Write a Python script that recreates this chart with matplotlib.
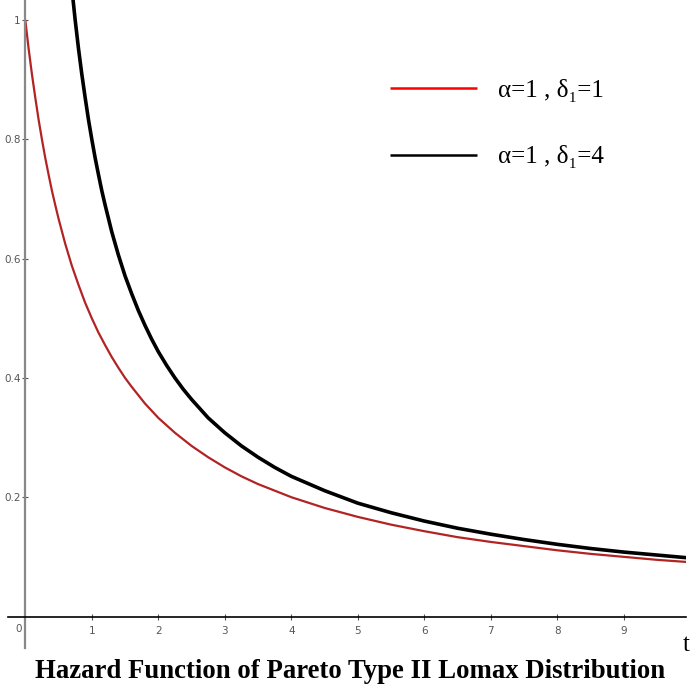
import matplotlib
matplotlib.use("Agg")
import matplotlib.pyplot as plt

# Data
t_red = [0, 0.05, 0.1, 0.15, 0.2, 0.25, 0.3, 0.35, 0.4, 0.45, 0.5, 0.6, 0.7, 0.8, 0.9, 1.0,
         1.1, 1.2, 1.3, 1.4, 1.5, 1.6, 1.8, 2.0, 2.25, 2.5, 2.75, 3, 3.25, 3.5, 4, 4.5, 5,
         5.5, 6, 6.5, 7, 7.5, 8, 8.5, 9, 9.5, 10]
h_red = [1.0, 0.952, 0.909, 0.870, 0.833, 0.8, 0.769, 0.741, 0.714, 0.690, 0.667, 0.625,
         0.588, 0.556, 0.526, 0.5, 0.476, 0.455, 0.435, 0.417, 0.4, 0.385, 0.357, 0.333,
         0.308, 0.286, 0.267, 0.25, 0.235, 0.222, 0.2, 0.182, 0.167, 0.154, 0.143, 0.133,
         0.125, 0.118, 0.111, 0.105, 0.1, 0.095, 0.091]

t_black = [0.7, 0.75, 0.8, 0.85, 0.9, 0.95, 1.0, 1.05, 1.1, 1.15, 1.2, 1.3, 1.4, 1.5, 1.6,
           1.7, 1.8, 1.9, 2.0, 2.125, 2.25, 2.375, 2.5, 2.75, 3, 3.25, 3.5, 3.75, 4, 4.5, 5,
           5.5, 6, 6.5, 7, 7.5, 8, 8.5, 9, 9.5, 10]
h_black = [1.053, 1.0, 0.952, 0.909, 0.870, 0.833, 0.8, 0.769, 0.741, 0.714, 0.690, 0.645,
           0.606, 0.571, 0.541, 0.513, 0.488, 0.465, 0.444, 0.421, 0.4, 0.381, 0.364, 0.333,
           0.308, 0.286, 0.267, 0.25, 0.235, 0.211, 0.190, 0.174, 0.16, 0.148, 0.138, 0.129,
           0.121, 0.114, 0.108, 0.103, 0.098]

labels = ["α=1 , δ₁=1", "α=1 , δ₁=4"]
x_ticks = [1, 2, 3, 4, 5, 6, 7, 8, 9]
y_ticks = [0.2, 0.4, 0.6, 0.8, 1]
y_tick_labels = ["0.2", "0.4", "0.6", "0.8", "1"]
title = "Hazard Function of Pareto Type II Lomax Distribution"

W, H = 692, 688
fig = plt.figure(figsize=(W / 100, H / 100), dpi=100)
ax = fig.add_axes([8 / W, 1 - 648 / H, (686 - 8) / W, 648 / H])
ax.set_xlim(-0.26, 9.935)
ax.set_ylim(-0.0528, 1.0335)

ax.plot(t_red, h_red, color="#b22424", lw=1.6, solid_capstyle="butt")
ax.plot(t_black, h_black, color="black", lw=2.6, solid_capstyle="butt")

# spines through origin
for s in ["top", "right"]:
    ax.spines[s].set_visible(False)
ax.spines["left"].set_position(("data", 0))
ax.spines["bottom"].set_position(("data", 0))
ax.spines["left"].set_color("#888888")
ax.spines["left"].set_linewidth(1.6)
ax.spines["bottom"].set_color("black")
ax.spines["bottom"].set_linewidth(1.2)

tickfont = dict(family=["Liberation Sans Narrow", "DejaVu Sans"], size=7.5)
ax.set_xticks(x_ticks)
ax.set_xticklabels([str(v) for v in x_ticks], color="#555555", **tickfont)
ax.set_yticks(y_ticks)
ax.set_yticklabels(y_tick_labels, color="#555555", **tickfont)
ax.tick_params(axis="x", direction="inout", length=5, width=0.8, color="#555555", pad=4)
ax.tick_params(axis="y", direction="inout", length=5, width=0.8, color="#555555", pad=1)
ax.text(-0.05, -0.013, "0", ha="right", va="top", color="#555555", **tickfont)

# legend
leg = fig.legend(
    ax.lines, labels, loc="upper left",
    bbox_to_anchor=(367 / W, 1 - 56 / H),
    frameon=False, handlelength=3.48, handletextpad=0.84, labelspacing=1.75,
    prop=dict(family=["Liberation Serif", "DejaVu Serif"], size=18),
)
for ln, c in zip(leg.get_lines(), ["#ff0000", "black"]):
    ln.set_color(c)
    ln.set_linewidth(1.8)

fig.text(686 / W, 1 - 645 / H, "t", ha="center", va="center",
         family=["Liberation Serif", "DejaVu Serif"], size=18)
fig.text(350 / W, 1 - 671 / H, title, ha="center", va="center",
         family=["Liberation Serif", "DejaVu Serif"], weight="bold", size=19.3)

fig.savefig("out.png", dpi=100)
